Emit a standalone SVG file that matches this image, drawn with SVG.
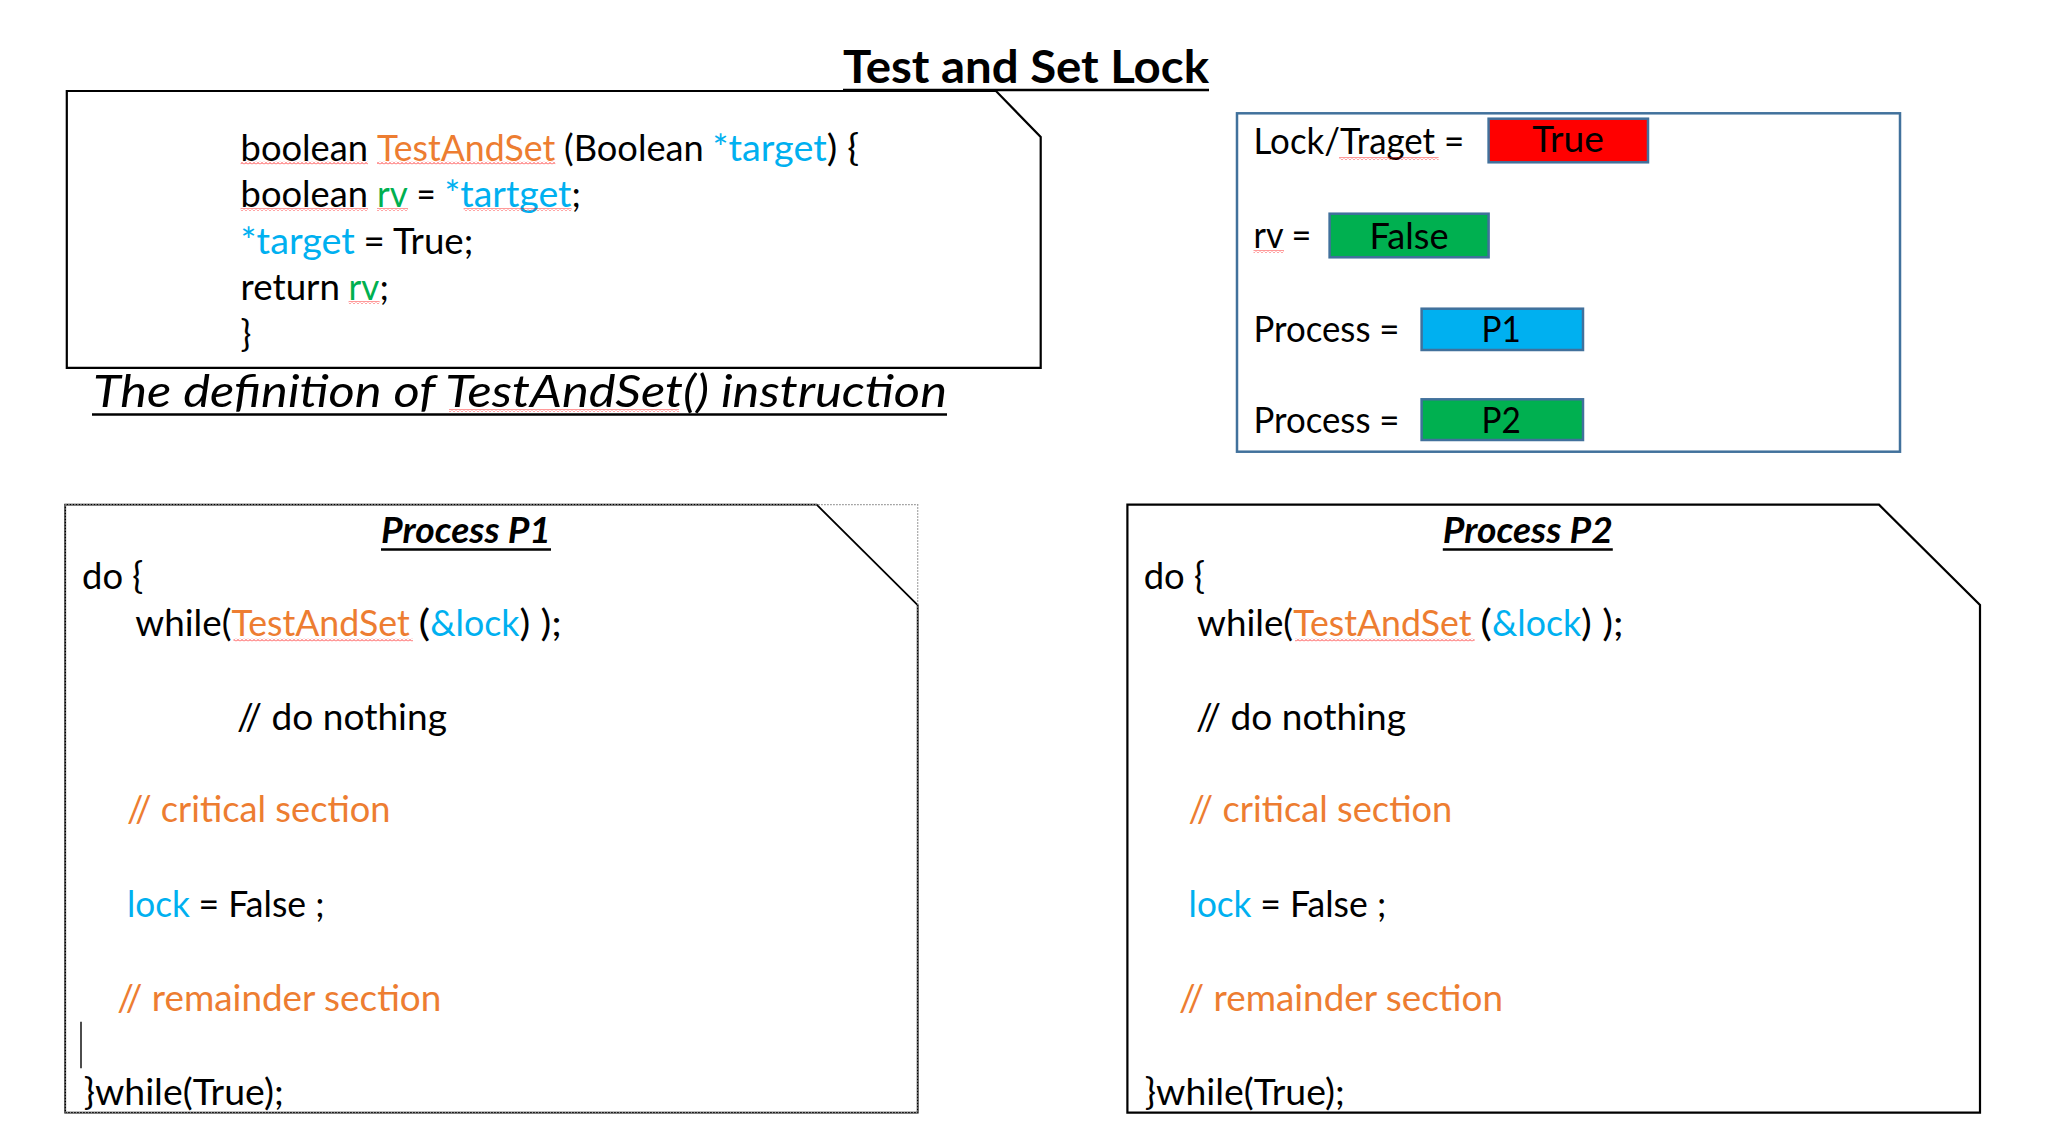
<svg xmlns="http://www.w3.org/2000/svg" width="2055" height="1147" viewBox="0 0 2055 1147">
<style>
text{font-family:Lato,"Open Sans","Liberation Sans",sans-serif;fill:#000}
.c{font-size:36px}
.o{fill:#ED7D31}
.b{fill:#00B0F0}
.g{fill:#00B050}
.title{font-size:46px;font-weight:bold}
.cap{font-size:45.5px;font-style:italic}
.ph{font-size:36px;font-weight:bold;font-style:italic}
.shape{fill:#fff;stroke:#000;stroke-width:2.2}
.val{stroke:#41719C;stroke-width:2.5}
.ul{stroke:#000;stroke-width:2.6}
.sq{fill:url(#zig)}
</style>
<defs>
<pattern id="zig" width="4" height="3" patternUnits="userSpaceOnUse">
<path d="M0 2.5 L2 0.5 L4 2.5" fill="none" stroke="#f00" stroke-width="0.8"/>
</pattern>
</defs>
<rect width="2055" height="1147" fill="#fff"/>

<g id="definition-box">
<path class="shape" d="M66.8 91 H996 L1040.7 137 V367.8 H66.8 Z"/>
<text class="c" y="160.5" lengthAdjust="spacingAndGlyphs"><tspan x="240.6" textLength="127.4" lengthAdjust="spacingAndGlyphs">boolean</tspan><tspan x="377" class="o" textLength="178.3" lengthAdjust="spacingAndGlyphs">TestAndSet</tspan><tspan x="564" textLength="139.8" lengthAdjust="spacingAndGlyphs">(Boolean</tspan><tspan x="712.5" class="b" textLength="114.2" lengthAdjust="spacingAndGlyphs">*target</tspan><tspan x="826.7" textLength="32.5" lengthAdjust="spacingAndGlyphs">) {</tspan></text>
<text class="c" y="207"><tspan x="240.6" textLength="127.4" lengthAdjust="spacingAndGlyphs">boolean</tspan><tspan x="377" class="g" textLength="30.8" lengthAdjust="spacingAndGlyphs">rv</tspan><tspan x="416.5" textLength="19.2" lengthAdjust="spacingAndGlyphs">=</tspan><tspan x="444.4" class="b" textLength="127.1" lengthAdjust="spacingAndGlyphs">*tartget</tspan><tspan x="571.5">;</tspan></text>
<text class="c" y="253.5"><tspan x="240.6" class="b" textLength="114.2" lengthAdjust="spacingAndGlyphs">*target</tspan><tspan x="363.5" textLength="109.8" lengthAdjust="spacingAndGlyphs">= True;</tspan></text>
<text class="c" y="300"><tspan x="240.6" textLength="99.4" lengthAdjust="spacingAndGlyphs">return</tspan><tspan x="348.6" class="g" textLength="30.8" lengthAdjust="spacingAndGlyphs">rv</tspan><tspan x="379.4">;</tspan></text>
<text class="c" x="240.6" y="346.5">}</text>
<rect class="sq" x="240.6" y="161.5" width="127.4" height="3"/>
<rect class="sq" x="377" y="161.5" width="178.3" height="3"/>
<rect class="sq" x="240.6" y="208" width="127.4" height="3"/>
<rect class="sq" x="377" y="208" width="31" height="3"/>
<rect class="sq" x="463.6" y="208" width="108" height="3"/>
<rect class="sq" x="348.6" y="301" width="31" height="3"/>
</g>

<g id="title">
<text class="title" x="843" y="83" textLength="366" lengthAdjust="spacingAndGlyphs">Test and Set Lock</text>
<line class="ul" x1="843" y1="90" x2="1209" y2="90"/>
</g>

<g id="caption">
<text class="cap" x="93" y="407" textLength="854" lengthAdjust="spacingAndGlyphs">The definition of TestAndSet() instruction</text>
<line class="ul" x1="92" y1="414.5" x2="947" y2="414.5"/>
<rect class="sq" x="449" y="409" width="230" height="3"/>
</g>

<g id="state-panel">
<rect x="1237" y="113.3" width="663" height="338.4" fill="#fff" class="val"/>
<text class="c" x="1253.5" y="154" textLength="210.7" lengthAdjust="spacingAndGlyphs">Lock/Traget =</text>
<rect class="sq" x="1339" y="157" width="99.6" height="3"/>
<rect class="val" x="1488.6" y="118.7" width="159.4" height="43.6" fill="#FF0000"/>
<text class="c" x="1532.2" y="152.3" textLength="71.6" lengthAdjust="spacingAndGlyphs">True</text>
<text class="c" x="1253.5" y="248" textLength="57.8" lengthAdjust="spacingAndGlyphs">rv =</text>
<rect class="sq" x="1253.5" y="250" width="30.5" height="3"/>
<rect class="val" x="1329.6" y="213.7" width="159" height="43.6" fill="#00B050"/>
<text class="c" x="1369.4" y="249.3" textLength="79.2" lengthAdjust="spacingAndGlyphs">False</text>
<text class="c" x="1253.5" y="341.7" textLength="146" lengthAdjust="spacingAndGlyphs">Process =</text>
<rect class="val" x="1421.6" y="308.7" width="161.4" height="41.3" fill="#00B0F0"/>
<text class="c" x="1481.5" y="342.3" textLength="39.4" lengthAdjust="spacingAndGlyphs">P1</text>
<text class="c" x="1253.5" y="433" textLength="146" lengthAdjust="spacingAndGlyphs">Process =</text>
<rect class="val" x="1421.6" y="399.3" width="161.4" height="40.7" fill="#00B050"/>
<text class="c" x="1481.5" y="433.3" textLength="39.4" lengthAdjust="spacingAndGlyphs">P2</text>
</g>

<g id="process-p1">
<path d="M65.2 504.7 H816.7 L917.7 605 V1112.7 H65.2 Z" fill="#fff" stroke="#000" stroke-width="1.8"/>
<rect x="65.2" y="504.7" width="852.5" height="608" fill="none" stroke="#8c8c8c" stroke-width="1.2" stroke-dasharray="1.5 1.5"/>
<text class="ph" x="381" y="543.3" textLength="170" lengthAdjust="spacingAndGlyphs">Process P1</text>
<line class="ul" x1="381" y1="549.5" x2="551" y2="549.5"/>
<text class="c" x="82" y="589" textLength="61.3" lengthAdjust="spacingAndGlyphs">do {</text>
<text class="c" y="635.7"><tspan x="135.3" textLength="96.2" lengthAdjust="spacingAndGlyphs">while(</tspan><tspan x="231.5" class="o" textLength="178.3" lengthAdjust="spacingAndGlyphs">TestAndSet</tspan><tspan x="418.5" textLength="11.7" lengthAdjust="spacingAndGlyphs">(</tspan><tspan x="430.2" class="b" textLength="89.2" lengthAdjust="spacingAndGlyphs">&amp;lock</tspan><tspan x="519.4" textLength="42.4" lengthAdjust="spacingAndGlyphs">) );</tspan></text>
<rect class="sq" x="233.5" y="638.5" width="179.5" height="3"/>
<text class="c" x="236.9" y="730" textLength="210" lengthAdjust="spacingAndGlyphs">// do nothing</text>
<text class="c o" x="126.9" y="822.3" textLength="263.6" lengthAdjust="spacingAndGlyphs">// critical section</text>
<text class="c" y="916.7"><tspan x="126.9" class="b" textLength="62.9" lengthAdjust="spacingAndGlyphs">lock</tspan><tspan x="198.5" textLength="126" lengthAdjust="spacingAndGlyphs">= False ;</tspan></text>
<text class="c o" x="117.3" y="1011" textLength="324" lengthAdjust="spacingAndGlyphs">// remainder section</text>
<line x1="81" y1="1021.7" x2="81" y2="1068.3" stroke="#000" stroke-width="1.4"/>
<text class="c" x="83.7" y="1105" textLength="200" lengthAdjust="spacingAndGlyphs">}while(True);</text>
</g>

<g id="process-p2">
<path class="shape" d="M1127.4 504.7 H1879 L1980 605 V1112.7 H1127.4 Z"/>
<text class="ph" x="1442.8" y="543.3" textLength="170" lengthAdjust="spacingAndGlyphs">Process P2</text>
<line class="ul" x1="1442.8" y1="549.5" x2="1612.8" y2="549.5"/>
<text class="c" x="1143.7" y="589" textLength="61.3" lengthAdjust="spacingAndGlyphs">do {</text>
<text class="c" y="635.7"><tspan x="1197" textLength="96.2" lengthAdjust="spacingAndGlyphs">while(</tspan><tspan x="1293.2" class="o" textLength="178.3" lengthAdjust="spacingAndGlyphs">TestAndSet</tspan><tspan x="1480.2" textLength="11.7" lengthAdjust="spacingAndGlyphs">(</tspan><tspan x="1491.9" class="b" textLength="89.2" lengthAdjust="spacingAndGlyphs">&amp;lock</tspan><tspan x="1581.1" textLength="42.4" lengthAdjust="spacingAndGlyphs">) );</tspan></text>
<rect class="sq" x="1295" y="638.5" width="179.6" height="3"/>
<text class="c" x="1195.9" y="730" textLength="210" lengthAdjust="spacingAndGlyphs">// do nothing</text>
<text class="c o" x="1188.6" y="822.3" textLength="263.6" lengthAdjust="spacingAndGlyphs">// critical section</text>
<text class="c" y="916.7"><tspan x="1188.6" class="b" textLength="62.9" lengthAdjust="spacingAndGlyphs">lock</tspan><tspan x="1260.2" textLength="126" lengthAdjust="spacingAndGlyphs">= False ;</tspan></text>
<text class="c o" x="1179" y="1011" textLength="324" lengthAdjust="spacingAndGlyphs">// remainder section</text>
<text class="c" x="1144.8" y="1105" textLength="200" lengthAdjust="spacingAndGlyphs">}while(True);</text>
</g>

<g id="connectors"></g>
</svg>
